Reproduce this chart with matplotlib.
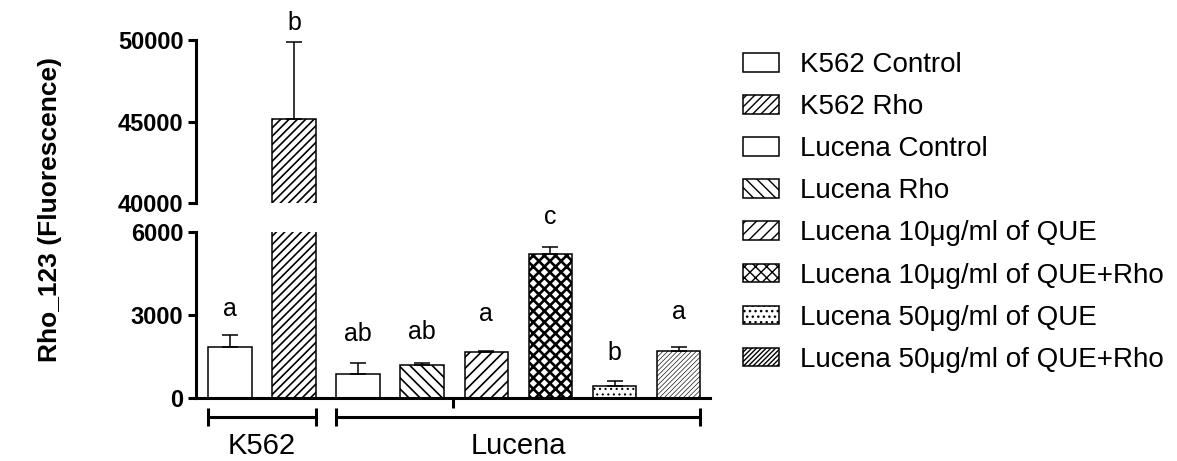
import matplotlib
matplotlib.use("Agg")
import matplotlib.pyplot as plt
import matplotlib.transforms as mtransforms
import numpy as np

plt.rcParams["font.family"] = ["Liberation Sans", "DejaVu Sans"]

# ── data ─────────────────────────────────────────────
groups = [
    "K562 Control",
    "K562 Rho",
    "Lucena Control",
    "Lucena Rho",
    "Lucena 10μg/ml of QUE",
    "Lucena 10μg/ml of QUE+Rho",
    "Lucena 50μg/ml of QUE",
    "Lucena 50μg/ml of QUE+Rho",
]
means = [1865, 45165, 878, 1215, 1663, 5215, 445, 1720]
sd_up = [425, 4700, 385, 50, 50, 265, 170, 125]
letters = ["a", "b", "ab", "ab", "a", "c", "b", "a"]
cell_lines = ["K562", "Lucena"]
cell_members = [[0, 1], [2, 3, 4, 5, 6, 7]]

lo_ticks = [0, 3000, 6000]
hi_ticks = [40000, 45000, 50000]

# ── styles ───────────────────────────────────────────
hatches = [None, "////", None, "\\\\\\", "///", "xxx", "...", "///////"]
hatch_lw = [1.0, 1.2, 1.0, 1.2, 1.2, 1.9, 0.8, 0.45]
letter_off_px = [19, 12, 22, 24, 30, 23, 21, 28]

W, H = 1177, 461
fig = plt.figure(figsize=(W / 100, H / 100), dpi=100)

x_lo, x_hi = 196, 710
ax_lo = fig.add_axes([x_lo / W, (H - 398.3) / H, (x_hi - x_lo) / W, (398.3 - 232.3) / H])
ax_hi = fig.add_axes([x_lo / W, (H - 203.3) / H, (x_hi - x_lo) / W, (203.3 - 40) / H])

x = np.arange(len(groups))
bw = 0.68
handles = []
for ax in (ax_lo, ax_hi):
    for i in x:
        with plt.rc_context({"hatch.linewidth": hatch_lw[i]}):
            b = ax.bar(x[i], means[i], width=bw, color="white", edgecolor="black",
                       linewidth=1.1, hatch=hatches[i], label=groups[i], zorder=2)
        for p in b:
            if hasattr(p, "set_hatch_linewidth"):
                p.set_hatch_linewidth(hatch_lw[i])
        if ax is ax_lo:
            handles.append(b)
    ax.errorbar(x, means, yerr=[np.zeros(len(x)), sd_up], fmt="none",
                ecolor="black", elinewidth=1.1, capsize=6, capthick=1.1, zorder=3)

for ax in (ax_lo, ax_hi):
    ax.set_xlim(-0.53, 7.49)
    ax.spines[["top", "right"]].set_visible(False)
    ax.spines["left"].set_linewidth(2.2)
    ax.tick_params(axis="y", length=6, width=2.2, pad=3,
                   labelsize=17)

ax_lo.set_ylim(0, 6000)
ax_lo.set_yticks(lo_ticks)
ax_lo.set_yticklabels([str(v) for v in lo_ticks], fontweight="bold", fontsize=17)
ax_lo.spines["bottom"].set_linewidth(2.2)
ax_lo.set_xticks([np.mean(ax_lo.get_xlim())])
ax_lo.set_xticklabels([""])
ax_lo.tick_params(axis="x", length=7, width=2.2)

ax_hi.set_ylim(40000, 50000)
ax_hi.set_yticks(hi_ticks)
ax_hi.set_yticklabels([str(v) for v in hi_ticks], fontweight="bold", fontsize=17)
ax_hi.spines["bottom"].set_visible(False)
ax_hi.set_xticks([])

# letters above bars
for i in x:
    ax = ax_hi if means[i] > 6000 else ax_lo
    ax.annotate(letters[i], (x[i], means[i] + sd_up[i]),
                xytext=(0, letter_off_px[i] * 0.72), textcoords="offset points",
                ha="center", va="baseline", fontsize=18, annotation_clip=False)

# cell-line brackets under the axis
trans = mtransforms.blended_transform_factory(ax_lo.transData, ax_lo.transAxes)
for name, members in zip(cell_lines, cell_members):
    x0 = x[members[0]] - bw / 2
    x1 = x[members[-1]] + bw / 2
    ax_lo.plot([x0, x1], [-0.113, -0.113], color="black", lw=2.2,
               transform=trans, clip_on=False, solid_capstyle="butt")
    for xe in (x0, x1):
        ax_lo.plot([xe, xe], [-0.06, -0.165], color="black", lw=2.2,
                   transform=trans, clip_on=False, solid_capstyle="butt")
    ax_lo.text((x0 + x1) / 2, -0.2, name, transform=trans, ha="center", va="top",
               fontsize=21)

fig.text(50 / W, 1 - 210 / H, "Rho_123 (Fluorescence)", rotation=90,
         ha="center", va="center", fontsize=19, fontweight="bold")

fig.legend(handles=handles, labels=groups, loc="upper left",
           bbox_to_anchor=(743 / W, 1 - 52 / H), frameon=False,
           fontsize=20, handlelength=1.3, handleheight=0.65,
           handletextpad=0.75, labelspacing=0.58, borderpad=0, borderaxespad=0)

fig.savefig("out.png", dpi=100, facecolor="white")
